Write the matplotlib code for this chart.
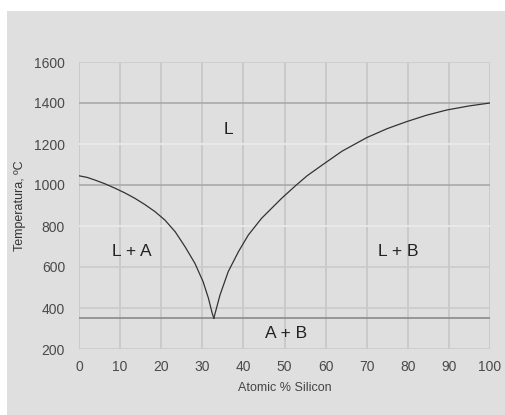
import matplotlib
matplotlib.use("Agg")
import matplotlib.pyplot as plt
from matplotlib.patches import Rectangle
import numpy as np

# Liquidus (left branch, A side)
left_x = [0, 2.0, 3.9, 6.3, 8.8, 11.2, 13.6, 16.0, 18.5, 20.9, 23.4, 25.8, 28.2, 30.2, 31.5, 32.4, 32.8]
left_t = [1045, 1037, 1024, 1006, 984, 961, 935, 905, 870, 829, 772, 699, 618, 528, 447, 375, 350]
# Liquidus (right branch, B side)
right_x = [32.8, 34.3, 36.3, 38.8, 41.2, 44.4, 49.3, 52.6, 55.5, 59.0, 64.0, 70.0, 75.0, 79.7, 84.5, 89.5, 95.0, 100]
right_t = [350, 463, 577, 675, 756, 837, 935, 995, 1045, 1095, 1165, 1231, 1275, 1309, 1340, 1366, 1386, 1400]
eutectic_t = 350

x_ticks = [0, 10, 20, 30, 40, 50, 60, 70, 80, 90, 100]
y_ticks = [200, 400, 600, 800, 1000, 1200, 1400, 1600]
dark_lines = [1400, 1000]
light_lines = [1200, 800]
mid_lines = [1600, 600, 400, 200]

region_labels = ["L", "L + A", "L + B", "A + B"]
region_x = [36.3, 12.8, 77.6, 50.5]
region_t = [1270, 675, 675, 278]

plt.rcParams['font.family'] = ['Liberation Sans', 'DejaVu Sans']

fig = plt.figure(figsize=(5.05, 4.15), dpi=100)
fig.patch.set_facecolor("white")
fig.patches.append(Rectangle((7/505, 0), 1 - 7/505, 1 - 11/415,
                             transform=fig.transFigure, facecolor="#dfdfdf",
                             edgecolor="none", zorder=-10))

ax = fig.add_axes([79/505, 1 - 349/415, (490 - 79)/505, (349 - 62)/415])
ax.set_zorder(5)
ax.set_facecolor("#dfdfdf")
ax.set_xlim(0, 100)
ax.set_ylim(200, 1600)
for s in ax.spines.values():
    s.set_visible(False)

for xv in x_ticks:
    ax.axvline(xv, color="#c6c6c6", lw=1.2, zorder=1)
for yv in dark_lines:
    ax.axhline(yv, color="#a9a9a9", lw=1.2, zorder=1)
for yv in light_lines:
    ax.axhline(yv, color="#ebebeb", lw=1.2, zorder=1)
for yv in mid_lines:
    ax.axhline(yv, color="#cbcbcb", lw=1.2, zorder=1)
ax.axhline(eutectic_t, color="#8a8a8a", lw=1.2, zorder=2)

ax.plot(left_x, left_t, color="#333333", lw=0.9, zorder=3)
ax.plot(right_x, right_t, color="#333333", lw=0.9, zorder=3)

for lab, xv, tv in zip(region_labels, region_x, region_t):
    ax.text(xv, tv, lab, ha="center", va="center", fontsize=12.5, color="#222222")

ax.set_xticks(x_ticks)
ax.set_yticks(y_ticks)
ax.tick_params(length=0, labelsize=10, colors="#4a4a4a", pad=8)
ax.tick_params(axis="y", pad=10)
ax.set_xlabel("Atomic % Silicon", fontsize=9, color="#444444", labelpad=6)
ax.set_ylabel("Temperatura, ºC", fontsize=9, color="#333333", labelpad=6)

fig.savefig("out.png", dpi=100)
